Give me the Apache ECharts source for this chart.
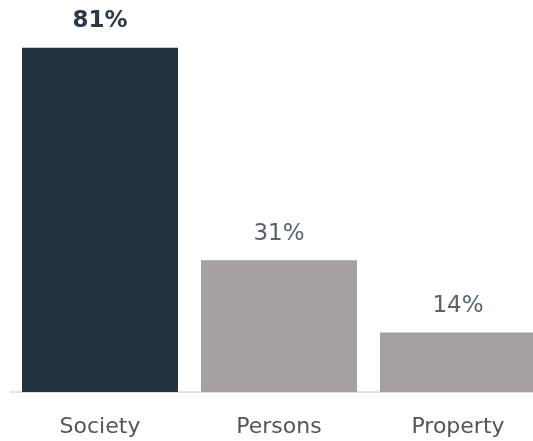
<!DOCTYPE html>
<html>
<head>
<meta charset="utf-8">
<script src="https://cdn.jsdelivr.net/npm/echarts@6/dist/echarts.min.js"></script>
<style>
  html, body { margin: 0; padding: 0; background: #fff; }
  #chart { width: 533px; height: 441px; }
</style>
</head>
<body>
<div id="chart"></div>
<script>
// data
var categories = ['Society', 'Persons', 'Property'];
var shares = [81, 31, 14];
var barColors = ['#22333f', '#a6a1a0', '#a6a1a0'];

var chart = echarts.init(document.getElementById('chart'));

var option = {
  animation: false,
  // the last bar runs off the right edge in the original
  grid: { left: 10.5, top: 9.5, right: -14.5, bottom: 49, outerBoundsMode: 'none' },
  xAxis: {
    type: 'category',
    data: categories,
    axisTick: { show: false },
    axisLine: { lineStyle: { color: '#d9d9d9', width: 1.5 } },
    axisLabel: {
      margin: 24,
      color: '#555',
      fontSize: 22,
      fontFamily: 'DejaVu Sans'
    }
  },
  yAxis: {
    type: 'value',
    min: 0,
    max: 90,
    show: false
  },
  series: [{
    type: 'bar',
    barCategoryGap: '12.85%',
    data: shares.map(function (v, i) {
      return {
        value: v,
        itemStyle: { color: barColors[i] },
        label: i === 0
          ? { fontWeight: 'bold', color: '#2b3a48' }
          : { fontWeight: 'normal', color: '#59636e' }
      };
    }),
    label: {
      show: true,
      position: 'top',
      distance: 15,
      fontSize: 23,
      fontFamily: 'DejaVu Sans',
      formatter: '{c}%'
    }
  }]
};

chart.setOption(option);
</script>
</body>
</html>
